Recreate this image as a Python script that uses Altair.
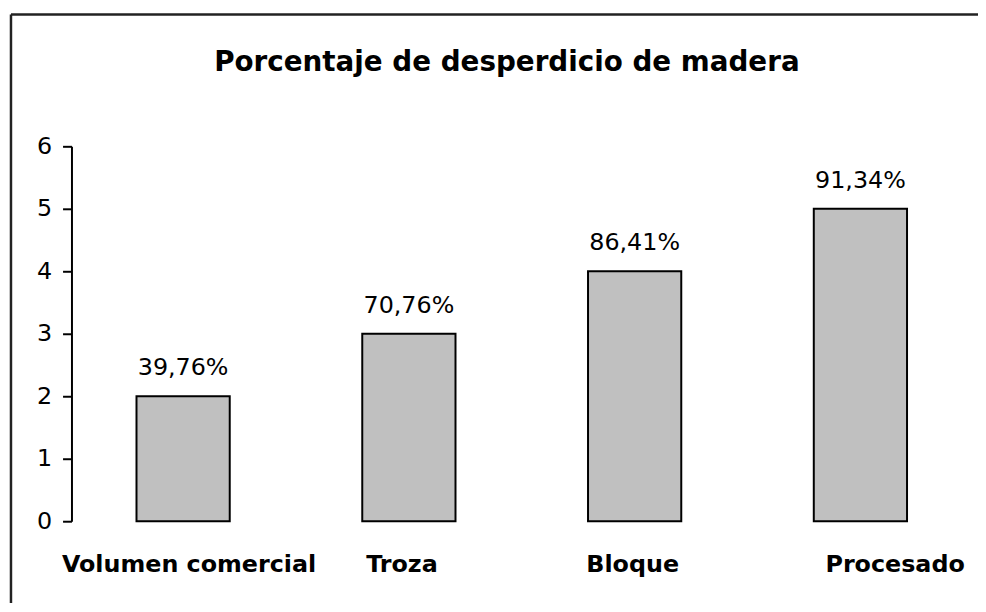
import altair as alt
import pandas as pd

categories = ["Volumen comercial", "Troza", "Bloque", "Procesado"]
values = [2, 3, 4, 5]
labels = ["39,76%", "70,76%", "86,41%", "91,34%"]
y_ticks = [0, 1, 2, 3, 4, 5, 6]

df = pd.DataFrame({"cat": categories, "val": values, "lab": labels})
frame_df = pd.DataFrame({"k": [0]})

FONT = "DejaVu Sans"

x_enc = alt.X(
    "cat:N",
    sort=categories,
    title=None,
    scale=alt.Scale(paddingInner=0.587, paddingOuter=0.288),
    axis=alt.Axis(
        domain=False,
        ticks=False,
        labelAngle=0,
        labelFont=FONT,
        labelFontSize=24,
        labelFontWeight="bold",
        labelColor="black",
        labelPadding=32,
        labelLimit=400,
        labelOffset=alt.ExprRef(expr="datum.value == 'Procesado' ? 35 : (datum.value == 'Troza' ? -7 : (datum.value == 'Volumen comercial' ? 6 : -2))"),
    ),
)
y_enc = alt.Y(
    "val:Q",
    title=None,
    scale=alt.Scale(domain=[0, 6], nice=False),
    axis=alt.Axis(
        values=y_ticks,
        format="d",
        grid=False,
        domainColor="black",
        domainWidth=2,
        tickColor="black",
        tickWidth=2,
        tickSize=9,
        labelFont=FONT,
        labelFontSize=24,
        labelColor="black",
        labelPadding=11,
    ),
)

bars = alt.Chart(df).mark_bar(
    fill="#c0c0c0", stroke="black", strokeWidth=2
).encode(x=x_enc, y=y_enc)

texts = alt.Chart(df).mark_text(
    font=FONT, fontSize=24, color="black", dy=-21, baseline="alphabetic"
).encode(x=alt.X("cat:N", sort=categories), y="val:Q", text="lab:N")

border_left = alt.Chart(frame_df).mark_rule(color="#222", strokeWidth=2.5).encode(
    x=alt.value(-61), y=alt.value(-133), y2=alt.value(700)
)
border_top = alt.Chart(frame_df).mark_rule(color="#222", strokeWidth=2.5).encode(
    x=alt.value(-61), x2=alt.value(1100), y=alt.value(-133)
)

chart = alt.layer(border_left, border_top, bars, texts).properties(
    width=908,
    height=378,
    padding={"left": 64, "top": 137, "right": 6, "bottom": 80},
    autosize=alt.AutoSizeParams(type="none"),
    title=alt.Title(
        "Porcentaje de desperdicio de madera",
        font=FONT,
        fontSize=28,
        fontWeight="bold",
        color="black",
        anchor="middle",
        frame="group",
        dx=-15,
        offset=-64,
    ),
).configure(background="white").configure_view(stroke=None)

chart.save("out.html", embed_options={"renderer": "svg", "actions": False})
